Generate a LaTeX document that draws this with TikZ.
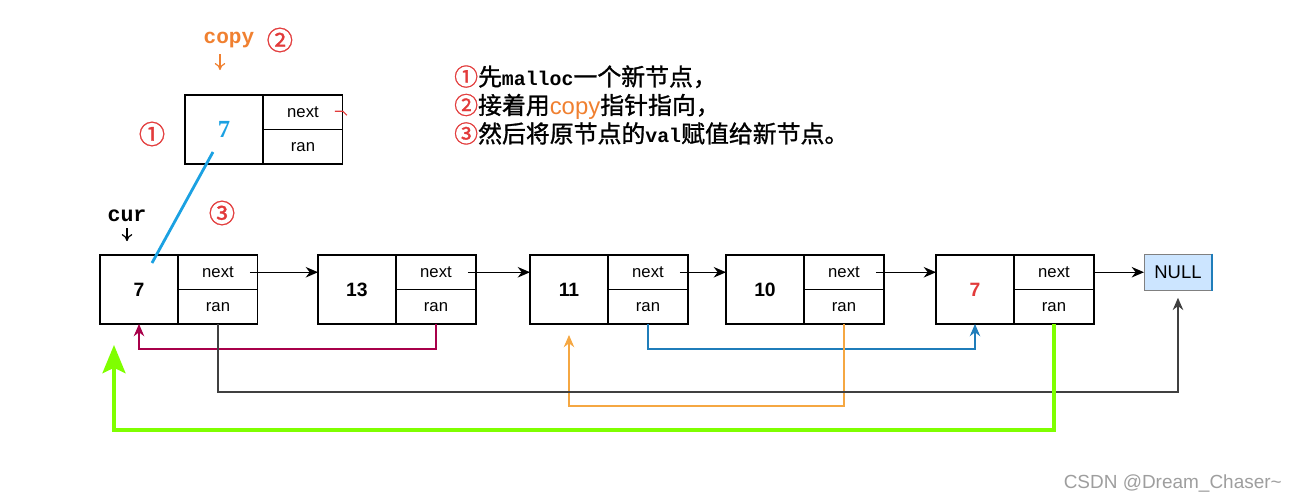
\documentclass[tikz,border=0pt]{standalone}
\usepackage{fontspec}
\setmainfont{Liberation Sans}
\newfontfamily\monof{Liberation Mono}
\newfontfamily\serf{Liberation Serif}
\newfontfamily\cjk{Noto Sans CJK SC}[FakeBold=1.2]
\usepackage{xcolor}
\usepackage{tikz}
\usetikzlibrary{arrows.meta,positioning}
\definecolor{myred}{HTML}{E23B3B}
\definecolor{orgtxt}{HTML}{F08030}
\definecolor{orgline}{HTML}{F5A742}
\definecolor{crim}{HTML}{A8004A}
\definecolor{bluel}{HTML}{1F7DBA}
\definecolor{cyanl}{HTML}{1BA1E2}
\definecolor{grn}{HTML}{7FFF00}
\definecolor{nullfill}{HTML}{CCE5FF}

\begin{document}
\begin{tikzpicture}[x=0.02cm,y=-0.02cm,
    valbox/.style={draw,line width=0.6pt,minimum width=1.56cm,minimum height=1.38cm,
        inner sep=0pt,outer sep=0pt,anchor=north west,font=\fontsize{11}{13}\selectfont\bfseries},
    ptrbox/.style={draw,line width=0.6pt,minimum width=1.6cm,minimum height=0.69cm,
        inner sep=0pt,outer sep=0pt,anchor=north west,font=\fontsize{9.5}{11}\selectfont},
    link/.style={line width=0.6pt,-{Stealth[length=7pt,width=6pt]}},
    randlink/.style={line width=0.7pt,-{Stealth[length=7pt,width=6pt]}},
    circnum/.style={font=\cjk\fontsize{15}{16}\selectfont,text=myred}]
\useasboundingbox (0,0) rectangle (1299,502);
% list nodes
\foreach \x/\v/\i/\c in {100/7/1/black,318/13/2/black,530/11/3/black,726/10/4/black,936/7/5/myred} {
    \node[valbox,text=\c] (v\i) at (\x,255) {\v};
    \node[ptrbox] (n\i) at (v\i.north east) {next};
    \node[ptrbox] (r\i) at (n\i.south west) {ran};
}
\node[draw=gray,fill=nullfill,line width=0.6pt,minimum width=1.34cm,minimum height=0.72cm,
    inner sep=0pt,font=\fontsize{10.5}{12}\selectfont,right=1cm of n5] (nul) {NULL};
\draw[bluel,line width=1pt] (nul.north east) -- (nul.south east);
% next pointers
\foreach \i/\j in {1/2,2/3,3/4,4/5} {
    \draw[link] ([xshift=-0.16cm]n\i.east) -- (v\j.west |- n\i.east);
}
\draw[link] (n5.east) -- (nul.west);
% random pointers
\draw[randlink,crim] (r2.south) -- ++(0,25) -| (v1.south);
\draw[randlink,bluel] (r3.south) -- ++(0,25) -| (v5.south);
\draw[randlink,orgline,shorten >=0.22cm] (r4.south) -- ++(0,82) -| (v3.south);
\draw[randlink,black!75,shorten >=0.14cm] (r1.south) -- ++(0,68) -| (nul.south);
\draw[grn,line width=2.3pt,-{Stealth[length=16pt,width=13pt,inset=3pt]}]
    (r5.south) -- ++(0,106) -| ([xshift=-0.5cm,yshift=-0.42cm]v1.south);
% the new node
\node[valbox,text=cyanl,font=\serf\fontsize{14}{16}\selectfont\bfseries] (v0) at (185,95) {7};
\node[ptrbox] (n0) at (v0.north east) {next};
\node[ptrbox] (r0) at (n0.south west) {ran};
\draw[myred,line width=0.6pt] ([xshift=-0.16cm,yshift=0.02cm]n0.east) -- ++(8,0) -- ++(4,4);
\draw[cyanl,line width=1.6pt] ([xshift=-0.22cm,yshift=-0.45cm]v0.center)
    -- ([xshift=0.26cm,yshift=0.53cm]v1.center);
% labels
\node[font=\monof\bfseries\fontsize{12}{14}\selectfont,text=orgtxt] (cplbl) at (229,40) {copy};
\node[circnum,right=0pt of cplbl] (c2) {②};
\draw[orgtxt,line width=0.7pt,-{To[length=4pt,width=6pt]}] ([xshift=-0.18cm]cplbl.south) -- ++(0,16);
\node[font=\monof\bfseries\fontsize{12.3}{14}\selectfont] (cur) at (127,216) {cur};
\draw[line width=0.7pt,-{To[length=4pt,width=6pt]}] (cur.south) -- ++(0,13);
\node[circnum] (c1) at (152,134) {①};
\node[circnum] (c3) at (222,213) {③};
% steps
\node[anchor=west,align=left,font=\cjk\fontsize{13.6}{16.2}\selectfont] (note) at (448,105)
    {\textcolor{myred}{①}先{\monof\bfseries\fontsize{11.3}{16.2}\selectfont malloc}一个新节点，\\
     \textcolor{myred}{②}接着用{\normalfont\color{orgtxt}copy}指针指向，\\
     \textcolor{myred}{③}然后将原节点的{\monof\bfseries\fontsize{11.3}{16.2}\selectfont val}赋值给新节点。};
\node[anchor=east,text=black!38,font=\fontsize{10.8}{12}\selectfont] (wm) at (1288,484) {CSDN @Dream\_Chaser\textasciitilde};
\end{tikzpicture}
\end{document}
